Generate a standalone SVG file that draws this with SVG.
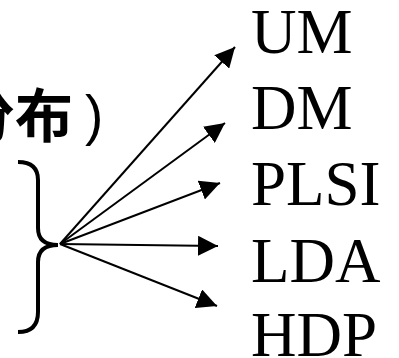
<svg xmlns="http://www.w3.org/2000/svg" width="399" height="358" viewBox="0 0 399 358">
  <style>
    .lbl { font-family: "Liberation Serif", "Times New Roman", serif; font-size: 63px; fill: #000; }
    .cjk { font-family: "Noto Sans CJK SC", sans-serif; font-size: 58px; font-weight: bold; fill: #000; }
    .paren { font-family: "Liberation Sans", Arial, sans-serif; font-size: 55px; fill: #000; }
    .link { stroke: #000; stroke-width: 2; fill: none; marker-end: url(#head); }
  </style>
  <defs>
    <marker id="head" viewBox="0 0 10 10" refX="10" refY="5" markerWidth="20" markerHeight="20" markerUnits="userSpaceOnUse" orient="auto">
      <path d="M0,0 L10,5 L0,10 Z" fill="#000"/>
    </marker>
  </defs>
  <rect width="399" height="358" fill="#fff"/>

  <!-- caption running off the left edge -->
  <g id="caption">
    <text class="cjk" x="-43" y="137">分布</text>
    <text class="paren" x="85" y="134">)</text>
  </g>

  <!-- curly brace gathering the models -->
  <g id="brace">
    <path d="M18,162 Q38,162 38,180 L38,228 Q38,245 58,245 Q38,245 38,262 L38,312 Q38,332 18,332" fill="none" stroke="#000" stroke-width="4"/>
  </g>

  <g id="connectors">
    <line class="link" x1="60" y1="244" x2="235" y2="47"/>
    <line class="link" x1="60" y1="244" x2="225" y2="123"/>
    <line class="link" x1="60" y1="244" x2="220" y2="183"/>
    <line class="link" x1="60" y1="244" x2="218" y2="246"/>
    <line class="link" x1="60" y1="244" x2="217" y2="306"/>
  </g>

  <g id="um"><text class="lbl" x="251" y="53">UM</text></g>
  <g id="dm"><text class="lbl" x="251" y="129">DM</text></g>
  <g id="plsi"><text class="lbl" x="251" y="205">PLSI</text></g>
  <g id="lda"><text class="lbl" x="251" y="282">LDA</text></g>
  <g id="hdp"><text class="lbl" x="251" y="356">HDP</text></g>
</svg>
